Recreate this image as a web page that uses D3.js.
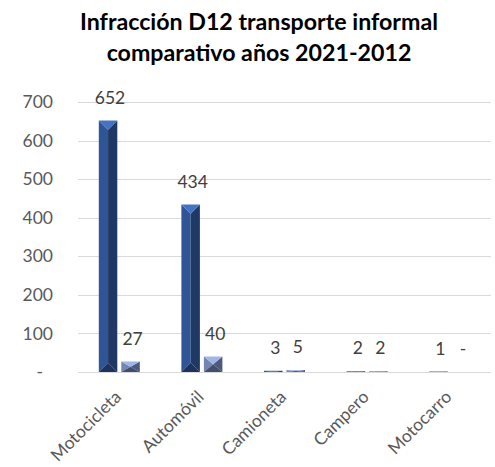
<!DOCTYPE html>
<html>
<head>
<meta charset="utf-8">
<script src="https://cdn.jsdelivr.net/npm/d3@7"></script>
<style>
  body { margin: 0; background: #fff; }
  svg { display: block; }
  text { font-family: Lato, "Open Sans", sans-serif; }
</style>
</head>
<body>
<svg id="chart" width="495" height="467"></svg>
<script>
// Categories and series (2021 vs 2022)
const categories = ["Motocicleta", "Automóvil", "Camioneta", "Campero", "Motocarro"];
const serie2021 = [652, 434, 3, 2, 1];
const serie2022 = [27, 40, 5, 2, 0];
const yTicks = [0, 100, 200, 300, 400, 500, 600, 700];
const titleLines = ["Infracción D12 transporte informal", "comparativo años 2021-2012"];

const svg = d3.select("#chart");
const margin = { left: 78, right: 4 };
const W = 495;

const x = d3.scaleBand().domain(categories).range([margin.left, W - margin.right]).paddingInner(0).paddingOuter(0);
const y = d3.scaleLinear().domain([0, 700]).range([372, 102]);

// Title
svg.append("g").selectAll("text").data(titleLines).join("text")
  .attr("x", 259).attr("y", (d, i) => 30 + i * 31)
  .attr("text-anchor", "middle")
  .attr("font-size", 23.2).attr("font-weight", "bold").attr("fill", "#000")
  .text(d => d);

// Gridlines
svg.append("g").selectAll("line").data(yTicks).join("line")
  .attr("x1", margin.left).attr("x2", W - margin.right)
  .attr("y1", d => Math.round(y(d)) + 0.5).attr("y2", d => Math.round(y(d)) + 0.5)
  .attr("stroke", "#d9d9d9").attr("stroke-width", 1.2);

// Y axis labels
const yAxis = d3.axisLeft(y).tickValues(yTicks).tickSize(0).tickPadding(0)
  .tickFormat(d => d === 0 ? "-" : d);
const yg = svg.append("g").attr("transform", "translate(53,0)").call(yAxis);
yg.select(".domain").remove();
yg.selectAll("text").attr("font-size", 17.5).attr("fill", "#595959")
  .attr("font-family", "Lato, 'Open Sans', sans-serif")
  .attr("dx", d => d === 0 ? -10 : 0);

// Bars with bevelled faces
const groupWidth = 41, barW = 18.5, gap = 4;
const series = [
  { values: serie2021, offset: 0, faces: ["#4472c4", "#2f5597", "#203864", "#1c3360"] },
  { values: serie2022, offset: barW + gap, faces: ["#9fb5e8", "#7585b3", "#4d5a80", "#434e6e"] }
];

const barsG = svg.append("g");
series.forEach(s => {
  categories.forEach((c, i) => {
    const v = s.values[i];
    if (v <= 0) return;
    const x0 = x(c) + (x.bandwidth() - groupWidth) / 2 + s.offset;
    const x1 = x0 + barW;
    const yt = y(v), yb = y(0);
    const h = yb - yt;
    const d = Math.min(barW / 2, h / 2);
    const xm = (x0 + x1) / 2;
    const g = barsG.append("g");
    // left face, right face
    g.append("polygon").attr("points", [[x0, yt], [xm, yt + d], [xm, yb - d], [x0, yb]].join(" ")).attr("fill", s.faces[1]);
    g.append("polygon").attr("points", [[x1, yt], [xm, yt + d], [xm, yb - d], [x1, yb]].join(" ")).attr("fill", s.faces[2]);
    // top and bottom faces
    g.append("polygon").attr("points", [[x0, yt], [x1, yt], [xm, yt + d]].join(" ")).attr("fill", s.faces[0]);
    g.append("polygon").attr("points", [[x0, yb], [x1, yb], [xm, yb - d]].join(" ")).attr("fill", s.faces[3]);
  });
});

// Value labels
series.forEach(s => {
  svg.append("g").selectAll("text").data(categories).join("text")
    .attr("x", (c) => x(c) + (x.bandwidth() - groupWidth) / 2 + s.offset + barW / 2 + 2)
    .attr("y", (c, i) => y(s.values[i]) - 17)
    .attr("text-anchor", "middle").attr("font-size", 17.5).attr("fill", "#404040")
    .text((c, i) => s.values[i] === 0 ? "-" : s.values[i]);
});

// Category labels
svg.append("g").selectAll("text").data(categories).join("text")
  .attr("transform", c => `translate(${x(c) + x.bandwidth() / 2 + 3},${398}) rotate(-45)`)
  .attr("text-anchor", "end").attr("font-size", 17.5).attr("fill", "#595959")
  .text(c => c);
</script>
</body>
</html>
